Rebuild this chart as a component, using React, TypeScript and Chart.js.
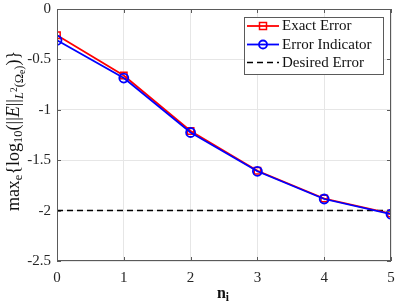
import React, { useEffect, useRef } from "react";
import { Chart, registerables } from "chart.js";

Chart.register(...registerables);

const nValues = [0, 1, 2, 3, 4, 5];
const exactError = [-0.26, -0.66, -1.21, -1.605, -1.88, -2.03];
const errorIndicator = [-0.31, -0.685, -1.225, -1.61, -1.885, -2.035];
const desiredX = [0, 5];
const desiredError = [-2, -2];
const legendLabels = ["Exact Error", "Error Indicator", "Desired Error"];
const xTitle = { main: "n", sub: "i" };

const SERIF = "'Liberation Serif', 'DejaVu Serif', serif";
const AXIS_COLOR = "#5a5a5a";

type Seg = { t: string; size: number; dy: number; italic?: boolean; bold?: boolean };

function drawSegs(ctx: CanvasRenderingContext2D, segs: Seg[], x: number, y: number, center: boolean) {
  const font = (s: Seg) => `${s.italic ? "italic " : ""}${s.bold ? "bold " : ""}${s.size}px ${SERIF}`;
  let total = 0;
  for (const s of segs) {
    ctx.font = font(s);
    total += ctx.measureText(s.t).width;
  }
  let cx = center ? x - total / 2 : x;
  ctx.textBaseline = "alphabetic";
  ctx.textAlign = "left";
  for (const s of segs) {
    ctx.font = font(s);
    ctx.fillText(s.t, cx, y + s.dy);
    cx += ctx.measureText(s.t).width;
  }
}

const decorPlugin = {
  id: "decor",
  afterDraw(chart: any) {
    const ctx: CanvasRenderingContext2D = chart.ctx;
    const { left, right, top, bottom } = chart.chartArea;
    const xs = chart.scales.x;
    const ys = chart.scales.y;
    ctx.save();
    // box
    ctx.strokeStyle = AXIS_COLOR;
    ctx.lineWidth = 1;
    ctx.strokeRect(left + 0.5, top + 0.5, right - left - 1, bottom - top - 1);
    // inward ticks
    const tl = 4;
    ctx.beginPath();
    xs.ticks.forEach((t: any) => {
      const px = Math.round(xs.getPixelForValue(t.value)) + 0.5;
      ctx.moveTo(px, bottom);
      ctx.lineTo(px, bottom - tl);
      ctx.moveTo(px, top);
      ctx.lineTo(px, top + tl);
    });
    ys.ticks.forEach((t: any) => {
      const py = Math.round(ys.getPixelForValue(t.value)) + 0.5;
      ctx.moveTo(left, py);
      ctx.lineTo(left + tl, py);
      ctx.moveTo(right, py);
      ctx.lineTo(right - tl, py);
    });
    ctx.stroke();

    // legend
    const lx = 244, ly = 17, lw = 139, lh = 57;
    ctx.fillStyle = "#fff";
    ctx.fillRect(lx, ly, lw, lh);
    ctx.strokeStyle = AXIS_COLOR;
    ctx.strokeRect(lx + 0.5, ly + 0.5, lw, lh);
    const rows = [26, 44.5, 62.5];
    const dsets = chart.data.datasets;
    rows.forEach((ry, i) => {
      const ds = dsets[i];
      ctx.strokeStyle = ds.borderColor;
      ctx.lineWidth = ds.borderWidth;
      ctx.setLineDash(ds.borderDash || []);
      ctx.beginPath();
      ctx.moveTo(247, ry);
      ctx.lineTo(279, ry);
      ctx.stroke();
      ctx.setLineDash([]);
      if (ds.pointStyle === "rect") {
        ctx.lineWidth = 1.5;
        ctx.strokeStyle = ds.borderColor;
        ctx.strokeRect(263 - 3.5, ry - 3.5, 7, 7);
      } else if (ds.pointStyle === "circle" && ds.pointRadius > 0) {
        ctx.lineWidth = 1.8;
        ctx.strokeStyle = ds.borderColor;
        ctx.beginPath();
        ctx.arc(263, ry, 4, 0, Math.PI * 2);
        ctx.stroke();
      }
      ctx.fillStyle = "#111";
      ctx.font = `15px ${SERIF}`;
      ctx.textAlign = "left";
      ctx.textBaseline = "middle";
      ctx.fillText(legendLabels[i], 282, ry + 0.5);
    });

    // x title
    ctx.fillStyle = "#111";
    drawSegs(
      ctx,
      [
        { t: xTitle.main, size: 16, dy: 0, bold: true },
        { t: xTitle.sub, size: 11.5, dy: 3, bold: true },
      ],
      223,
      298,
      true
    );

    // y title (rotated)
    ctx.translate(19, 131);
    ctx.rotate(-Math.PI / 2);
    const M = 18, S = 12.5, SS = 9.5;
    drawSegs(
      ctx,
      [
        { t: "max", size: M, dy: 0 },
        { t: "e", size: S, dy: 3 },
        { t: "{", size: M, dy: 0 },
        { t: "log", size: M, dy: 0 },
        { t: "10", size: S, dy: 3 },
        { t: "(||", size: M, dy: 0 },
        { t: "E", size: M, dy: 0, italic: true },
        { t: "||", size: M, dy: 0 },
        { t: "L", size: S, dy: 4, italic: true },
        { t: "2", size: SS, dy: -2 },
        { t: "(Ω", size: S, dy: 4 },
        { t: "e", size: SS, dy: 6 },
        { t: ")", size: S, dy: 4 },
        { t: ")", size: M, dy: 0 },
        { t: "}", size: M, dy: 0 },
      ],
      0,
      0,
      true
    );
    ctx.restore();
  },
};

export default function App() {
  const ref = useRef<HTMLCanvasElement>(null);
  useEffect(() => {
    if (!ref.current) return;
    const chart = new Chart(ref.current, {
      type: "line",
      data: {
        datasets: [
          {
            label: legendLabels[0],
            data: nValues.map((n, i) => ({ x: n, y: exactError[i] })),
            borderColor: "#ff0000",
            backgroundColor: "rgba(0,0,0,0)",
            borderWidth: 1.8,
            pointStyle: "rect",
            pointRadius: 4.5,
            pointBorderWidth: 1.5,
            pointBorderColor: "#ff0000",
            pointBackgroundColor: "rgba(0,0,0,0)",
            order: 3,
          },
          {
            label: legendLabels[1],
            data: nValues.map((n, i) => ({ x: n, y: errorIndicator[i] })),
            borderColor: "#0000ff",
            backgroundColor: "rgba(0,0,0,0)",
            borderWidth: 1.8,
            pointStyle: "circle",
            pointRadius: 4.5,
            pointBorderWidth: 1.8,
            pointBorderColor: "#0000ff",
            pointBackgroundColor: "rgba(0,0,0,0)",
            order: 2,
          },
          {
            label: legendLabels[2],
            data: desiredX.map((x, i) => ({ x, y: desiredError[i] })),
            borderColor: "#000000",
            borderWidth: 1.5,
            borderDash: [6, 4],
            pointStyle: "circle",
            pointRadius: 0,
            order: 4,
          },
        ],
      },
      options: {
        responsive: false,
        animation: false,
        events: [],
        layout: { padding: { left: 0, top: 9, right: 7, bottom: 0 } },
        plugins: { legend: { display: false }, tooltip: { enabled: false } },
        scales: {
          x: {
            type: "linear",
            min: 0,
            max: 5,
            afterFit: (s: any) => {
              s.height = 47;
              s.paddingLeft = 0;
              s.paddingRight = 0;
            },
            ticks: {
              stepSize: 1,
              color: "#262626",
              padding: 8,
              font: { family: SERIF, size: 15 },
              callback: (v: any) => String(v),
            },
            grid: { color: "#e6e6e6", drawTicks: false },
            border: { display: false },
          },
          y: {
            type: "linear",
            min: -2.5,
            max: 0,
            afterFit: (s: any) => {
              s.width = 57;
              s.paddingTop = 0;
              s.paddingBottom = 0;
            },
            ticks: {
              stepSize: 0.5,
              color: "#262626",
              padding: 6,
              font: { family: SERIF, size: 15 },
              callback: (v: any) => String(v),
            },
            grid: { color: "#e6e6e6", drawTicks: false },
            border: { display: false },
          },
        },
      },
      plugins: [decorPlugin],
    });
    return () => chart.destroy();
  }, []);
  return (
    <div style={{ position: "absolute", left: 0, top: 0, width: 398, height: 308, background: "#fff" }}>
      <canvas ref={ref} width={398} height={308} style={{ display: "block" }} />
    </div>
  );
}
